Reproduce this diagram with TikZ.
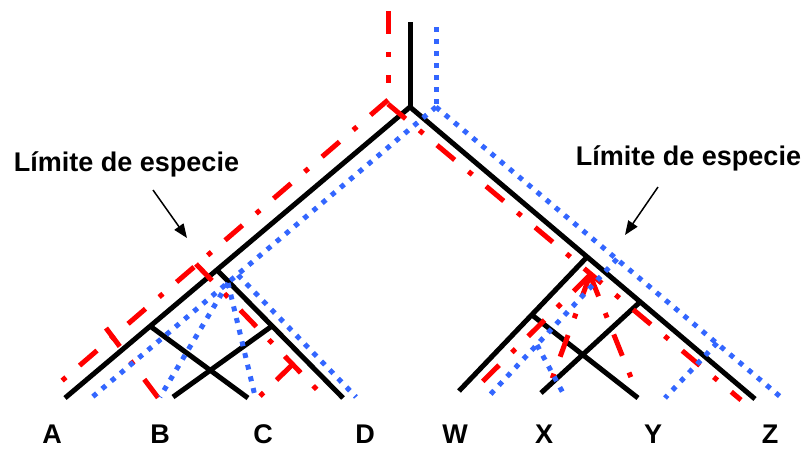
\documentclass[tikz,border=0pt]{standalone}
\usepackage{fontspec}
\setmainfont{Liberation Sans}
\usetikzlibrary{arrows.meta}
\definecolor{gred}{RGB}{255,0,0}
\definecolor{gblue}{RGB}{51,102,255}
\begin{document}
\begin{tikzpicture}[x=1pt,y=-1pt,
  sp/.style={line width=5pt,black,line join=round},
  redl/.style={line width=5pt,gred,dash pattern=on 23pt off 18pt on 5pt off 18pt},
  bluel/.style={line width=5pt,gblue,dash pattern=on 5pt off 7pt},
  lab/.style={font=\bfseries\fontsize{27}{27}\selectfont,anchor=base,inner sep=0pt},
  note/.style={font=\bfseries\fontsize{27}{27}\selectfont,anchor=base,inner sep=0pt},
  arr/.style={line width=1.5pt,-{Triangle[length=14pt,width=11pt]}}
]
\useasboundingbox (0,0) rectangle (806,448);
% species tree (black)
\coordinate (Rt) at (410,22);
\coordinate (R) at (410,107);
\coordinate (A) at (65,398);
\coordinate (nL1) at (217,270);
\coordinate (nL2) at (150,326);
\coordinate (D) at (343,398);
\coordinate (nL3) at (272,326);
\coordinate (C) at (248,398);
\coordinate (B) at (173,397);
\coordinate (Z) at (755,399);
\coordinate (nR1) at (587,257);
\coordinate (nR3) at (640,302);
\coordinate (W) at (459,391);
\coordinate (nR2) at (532,315);
\coordinate (Y) at (638,398);
\coordinate (X) at (541,393);
\draw[sp] (Rt) -- (R);
\draw[sp] (A) -- (R) -- (Z);
\draw[sp] (nL1) -- (D);
\draw[sp] (nL2) -- (C);
\draw[sp] (nL3) -- (B);
\draw[sp] (nR1) -- (W);
\draw[sp] (nR2) -- (Y);
\draw[sp] (nR3) -- (X);
% red gene tree
\coordinate (rT) at (388,11);
\coordinate (rV) at (388,83);
\coordinate (rJ) at (388,100);
\coordinate (rJ2) at (388,104);
\coordinate (rA) at (50,391);
\coordinate (rBs) at (106,328);
\coordinate (rB) at (159,399);
\coordinate (rDs) at (196,264);
\coordinate (rD) at (325,398);
\coordinate (rCs) at (293,364);
\coordinate (rC) at (256,400);
\coordinate (rZ) at (741,400);
\coordinate (rS) at (590,275);
\coordinate (rW) at (473,391);
\coordinate (rX) at (548,390);
\coordinate (rY) at (636,390);
\draw[redl] (rT) -- (rV);
\draw[redl] (rJ) -- (rA);
\draw[redl] (rBs) -- (rB);
\draw[redl] (rDs) -- (rD);
\draw[redl] (rCs) -- (rC);
\draw[redl] (rJ2) -- (rZ);
\draw[redl] (rS) -- (rW);
\draw[redl] (rS) -- (rX);
\draw[redl] (rS) -- (rY);
% blue gene tree
\coordinate (bT) at (436,27);
\coordinate (bJ) at (436,107);
\coordinate (bZ) at (783,399);
\coordinate (bA) at (90,399);
\coordinate (bLJ) at (228,283);
\coordinate (bB) at (160,397);
\coordinate (bC) at (255,396);
\coordinate (bDs) at (238,275);
\coordinate (bD) at (356,397);
\coordinate (bWs) at (617,259);
\coordinate (bW) at (488,397);
\coordinate (bXs) at (537,345);
\coordinate (bX) at (563,393);
\coordinate (bYs) at (717,343);
\coordinate (bY) at (665,398);
\draw[bluel] (bT) -- (bJ);
\draw[bluel] (bJ) -- (bA);
\draw[bluel] (bJ) -- (bZ);
\draw[bluel] (bLJ) -- (bB);
\draw[bluel] (bLJ) -- (bC);
\draw[bluel] (bDs) -- (bD);
\draw[bluel] (bWs) -- (bW);
\draw[bluel] (bXs) -- (bX);
\draw[bluel] (bYs) -- (bY);
% notes
\node[note] (tl) at (126.5,171) {Límite de especie};
\node[note] (tr) at (688.5,165) {Límite de especie};
\coordinate (al1) at (153,190);
\coordinate (al2) at (187,238);
\coordinate (ar1) at (658,187);
\coordinate (ar2) at (625,235);
\draw[arr] (al1) -- (al2);
\draw[arr] (ar1) -- (ar2);
% labels
\node[lab] (lA) at (52,443) {A};
\node[lab] (lB) at (160,443) {B};
\node[lab] (lC) at (263,443) {C};
\node[lab] (lD) at (365,443) {D};
\node[lab] (lW) at (455,443) {W};
\node[lab] (lX) at (544,443) {X};
\node[lab] (lY) at (653,443) {Y};
\node[lab] (lZ) at (770,443) {Z};
\end{tikzpicture}
\end{document}
